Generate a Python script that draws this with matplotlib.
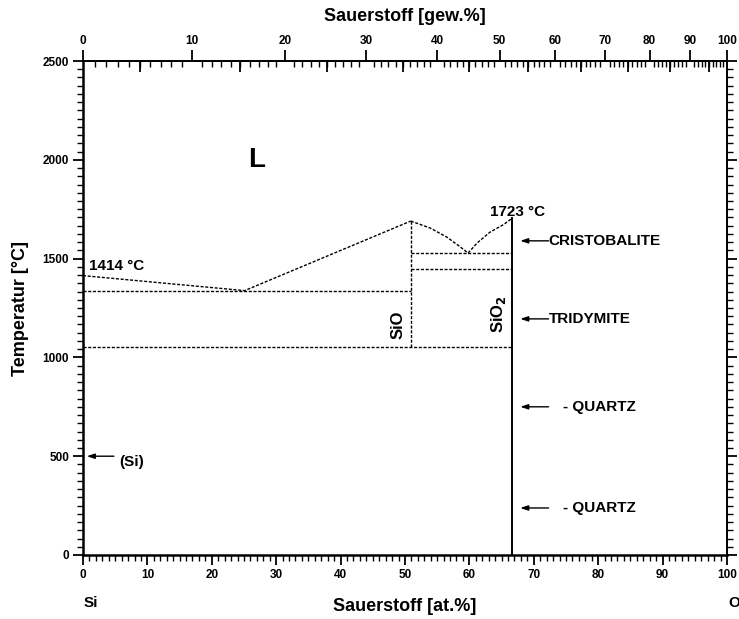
import numpy as np
import matplotlib
matplotlib.use('Agg')
import matplotlib.pyplot as plt
from matplotlib.ticker import MultipleLocator, AutoMinorLocator, FixedLocator

plt.rcParams['font.family'] = ['Liberation Sans', 'DejaVu Sans']
plt.rcParams['font.weight'] = 'bold'

# liquidus, Si side: melting point -> eutectic -> SiO maximum
liq_si_x = [0.0, 25.1, 50.9]
liq_si_T = [1414, 1338, 1690]

# liquidus around SiO2 (curved branches)
liq_l_x = [50.9, 53.9, 56.5, 58.6, 59.8]
liq_l_T = [1690, 1655, 1609, 1559, 1528]
liq_r_x = [59.8, 61.2, 63.2, 65.3, 66.67]
liq_r_T = [1528, 1579, 1634, 1672, 1705]

# horizontal reactions (x start, x end, T)
iso_x0 = [0.0, 0.0, 50.9, 50.9]
iso_x1 = [50.9, 66.67, 66.67, 66.67]
iso_T = [1338, 1055, 1528, 1448]

x_sio = 50.9
x_sio2 = 66.67
sio_Tmin, sio_Tmax = 1055, 1690
sio2_Tmax = 1705

# phase arrows at the SiO2 line
phase_names = ['CRISTOBALITE', 'TRIDYMITE', '- QUARTZ', '- QUARTZ']
phase_T = [1590, 1195, 750, 238]

# top scale ticks (gew.%)
wt_major = list(range(0, 101, 10))
wt_mid = list(range(5, 100, 10))
wt_minor = list(range(0, 101))

# molar masses as the top (gew.%) scale of the chart is drawn
M_O = 16.0
M_SI = 29.3


def at2wt(x):
    x = np.asarray(x, dtype=float)
    return 100 * M_O * x / (M_O * x + M_SI * (100 - x))


def wt2at(w):
    w = np.asarray(w, dtype=float)
    return 100 * (w / M_O) / (w / M_O + (100 - w) / M_SI)


fig = plt.figure(figsize=(7.39, 6.19), dpi=100)
ax = fig.add_axes([0.1123, 0.1034, 0.8714, 0.798])

ls = dict(color='k', linestyle=(0, (2.2, 1.2)), linewidth=1.0)
ax.plot(liq_si_x, liq_si_T, **ls)
ax.plot(liq_l_x, liq_l_T, **ls)
ax.plot(liq_r_x, liq_r_T, **ls)
for x0, x1, T in zip(iso_x0, iso_x1, iso_T):
    ax.plot([x0, x1], [T, T], **ls)
ax.plot([x_sio, x_sio], [sio_Tmin, sio_Tmax], **ls)
ax.plot([x_sio2, x_sio2], [0, sio2_Tmax], color='k', linewidth=1.4)

ax.set_xlim(0, 100)
ax.set_ylim(0, 2500)

# labels inside
ax.text(27, 2000, 'L', fontsize=20, fontweight='bold', ha='center', va='center')
ax.text(1.0, 1425, '1414 °C', fontsize=11, fontweight='bold', ha='left', va='bottom')
ax.text(67.5, 1700, '1723 °C', fontsize=11, fontweight='bold', ha='center', va='bottom')
ax.text(48.9, 1165, 'SiO', fontsize=12, fontweight='bold', rotation=90,
        ha='center', va='center')
ax.text(64.6, 1220, 'SiO$_\\mathbf{2}$', fontsize=12, fontweight='bold', rotation=90,
        ha='center', va='center')

arr = dict(arrowstyle='-|>,head_length=0.45,head_width=0.15', color='k', lw=1.0,
           shrinkA=0, shrinkB=0)
for i, (name, T) in enumerate(zip(phase_names, phase_T)):
    ax.annotate('', xy=(67.9, T), xytext=(72.3, T), arrowprops=arr)
    tx = 72.3 if i < 2 else 74.6
    ax.text(tx, T, name, fontsize=11, fontweight='bold', ha='left', va='center')

ax.annotate('', xy=(0.6, 500), xytext=(4.8, 500), arrowprops=arr)
ax.text(5.6, 470, '(Si)', fontsize=11, fontweight='bold', ha='left', va='center')

# axes styling
for s in ['left', 'bottom']:
    ax.spines[s].set_linewidth(1.8)
for s in ['top', 'right']:
    ax.spines[s].set_linewidth(1.4)

ax.xaxis.set_major_locator(MultipleLocator(10))
ax.xaxis.set_minor_locator(MultipleLocator(1))
ax.yaxis.set_major_locator(MultipleLocator(500))
ax.yaxis.set_minor_locator(AutoMinorLocator(12))
ax.tick_params(which='major', direction='out', length=7, width=1.3,
               labelsize=8.5, pad=3, top=False, right=True, labelright=False)
ax.tick_params(which='minor', direction='out', length=4, width=1.0,
               top=False, right=True)
for lab in ax.get_xticklabels() + ax.get_yticklabels():
    lab.set_fontweight('bold')

ax.set_xlabel('Sauerstoff [at.%]', fontsize=13, fontweight='bold', labelpad=12)
ax.set_ylabel('Temperatur [°C]', fontsize=13, fontweight='bold', labelpad=10)

# top axis: weight percent
top = ax.secondary_xaxis('top', functions=(at2wt, wt2at))
top.xaxis.set_major_locator(FixedLocator(wt_major))
top.xaxis.set_minor_locator(FixedLocator(wt_minor))
top.tick_params(which='major', direction='out', length=8, width=1.3, labelsize=8.5, pad=2)
top.tick_params(which='minor', direction='in', length=4, width=1.0)
top.spines['top'].set_linewidth(1.4)
for lab in top.get_xticklabels():
    lab.set_fontweight('bold')
top.set_xlabel('Sauerstoff [gew.%]', fontsize=13, fontweight='bold', labelpad=10)

top5 = ax.secondary_xaxis('top', functions=(at2wt, wt2at))
top5.xaxis.set_major_locator(FixedLocator(wt_mid))
top5.tick_params(which='major', direction='in', length=8, width=1.3,
                 labeltop=False, labelbottom=False)
top5.xaxis.set_minor_locator(plt.NullLocator())
top5.spines['top'].set_visible(False)

fig.text(84 / 739, 1 - 603 / 619, 'Si', fontsize=11, fontweight='bold',
         ha='left', va='center')
fig.text(728 / 739, 1 - 603 / 619, 'O', fontsize=11, fontweight='bold',
         ha='left', va='center')

fig.savefig('out.png', dpi=100)
